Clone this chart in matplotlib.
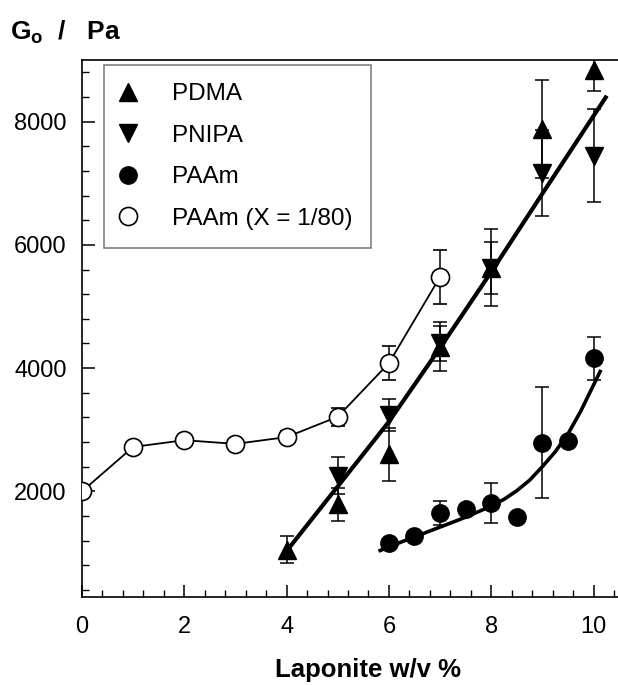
import matplotlib
matplotlib.use("Agg")
import matplotlib.pyplot as plt
import numpy as np
from matplotlib.lines import Line2D

plt.rcParams['font.family'] = ['Liberation Sans', 'DejaVu Sans']
plt.rcParams['mathtext.fontset'] = 'custom'
plt.rcParams['mathtext.rm'] = 'Liberation Sans'
plt.rcParams['mathtext.bf'] = 'Liberation Sans:bold'

# ---- data ----
pdma_x = [4, 5, 6, 7, 8, 9, 10]
pdma_y = [1050, 1790, 2600, 4350, 5630, 7880, 8840]
pdma_err = [220, 265, 435, 400, 620, 800, 350]

pnipa_x = [5, 6, 7, 8, 9, 10]
pnipa_y = [2250, 3240, 4400, 5620, 7170, 7450]
pnipa_err = [300, 265, 290, 420, 700, 760]

paam_x = [6, 6.5, 7, 7.5, 8, 8.5, 9, 9.5, 10]
paam_y = [1160, 1270, 1650, 1720, 1810, 1590, 2790, 2810, 4160]
paam_err = [60, 0, 200, 0, 320, 0, 900, 0, 350]

paam80_x = [0, 1, 2, 3, 4, 5, 6, 7]
paam80_y = [2000, 2720, 2830, 2770, 2880, 3210, 4080, 5480]
paam80_err = [0, 0, 0, 0, 100, 150, 280, 440]

# fitted curves
fit_lin_x = [3.97, 5, 6, 7, 8, 9, 10.26]
fit_lin_y = [1000, 2080, 3130, 4330, 5560, 6830, 8420]

fit_paam_x = [5.83, 6.25, 6.5, 7.0, 7.5, 8.0, 8.25, 8.5, 8.75, 9.0, 9.25, 9.5, 9.75, 10.13]
fit_paam_y = [1040, 1180, 1260, 1420, 1580, 1760, 1870, 2010, 2180, 2400, 2640, 2930, 3300, 3945]

W, H = 618, 685
fig = plt.figure(figsize=(W / 100, H / 100), dpi=100)
ax = fig.add_axes([82 / W, 1 - 597 / H, (W - 82) / W, (597 - 60) / H])

ax.plot(fit_lin_x, fit_lin_y, color='black', lw=3.0, solid_capstyle='butt', zorder=2)
ax.plot(fit_paam_x, fit_paam_y, color='black', lw=2.6, zorder=2)

ek = dict(ecolor='black', elinewidth=1.1, capsize=5, capthick=1.1, zorder=3)
ax.errorbar(paam80_x, paam80_y, yerr=paam80_err, fmt='-o', color='black', lw=1.3,
            mfc='white', mec='black', mew=1.2, ms=13, **ek)
ax.errorbar(pdma_x, pdma_y, yerr=pdma_err, fmt='^', color='black', ms=13, **ek)
ax.errorbar(pnipa_x, pnipa_y, yerr=pnipa_err, fmt='v', color='black', ms=13, **ek)
ax.errorbar(paam_x, paam_y, yerr=paam_err, fmt='o', color='black', ms=12.5, **ek)

ax.set_xlim(0, (W - 82) / 51.15)
ax.set_ylim(285, 9000)
ax.set_xticks([0, 2, 4, 6, 8, 10])
ax.set_yticks([2000, 4000, 6000, 8000])
ax.set_xticks(np.arange(0, 10.5, 0.4), minor=True)
ax.set_yticks(np.arange(400, 9000, 400), minor=True)
ax.tick_params(which='major', direction='in', length=9, width=1.1, labelsize=17,
               top=False, right=False)
ax.tick_params(axis='x', which='major', pad=14)
ax.tick_params(axis='y', which='major', pad=11)
ax.tick_params(which='minor', direction='in', length=5, width=1.0, top=False, right=False)
for s in ['left', 'bottom', 'top']:
    ax.spines[s].set_linewidth(1.2)
ax.spines['right'].set_visible(False)

leg_labels = ['PDMA', 'PNIPA', 'PAAm', 'PAAm (X = 1/80)']
handles = [
    Line2D([], [], marker='^', ls='', color='black', ms=13),
    Line2D([], [], marker='v', ls='', color='black', ms=13),
    Line2D([], [], marker='o', ls='', color='black', ms=12.5),
    Line2D([], [], marker='o', ls='', mfc='white', mec='black', mew=1.2, ms=13),
]
leg = ax.legend(handles, leg_labels,
                loc='upper left',
                bbox_to_anchor=((104 - 82) / (W - 82), 1 - (65 - 60) / (597 - 60)),
                borderaxespad=0, fontsize=17.5, frameon=True, fancybox=False,
                edgecolor='#555555', handlelength=0.45, handletextpad=1.6,
                labelspacing=0.8, borderpad=0.75)
leg.get_frame().set_linewidth(1.1)

fig.text(10 / W, 1 - 40 / H, r'$\mathbf{G_o}$  /   Pa', fontsize=19, fontweight='bold')
fig.text(368 / W, 1 - 670 / H, 'Laponite w/v %', fontsize=18.5, fontweight='bold',
         ha='center', va='center')

fig.savefig('out.png', dpi=100)
